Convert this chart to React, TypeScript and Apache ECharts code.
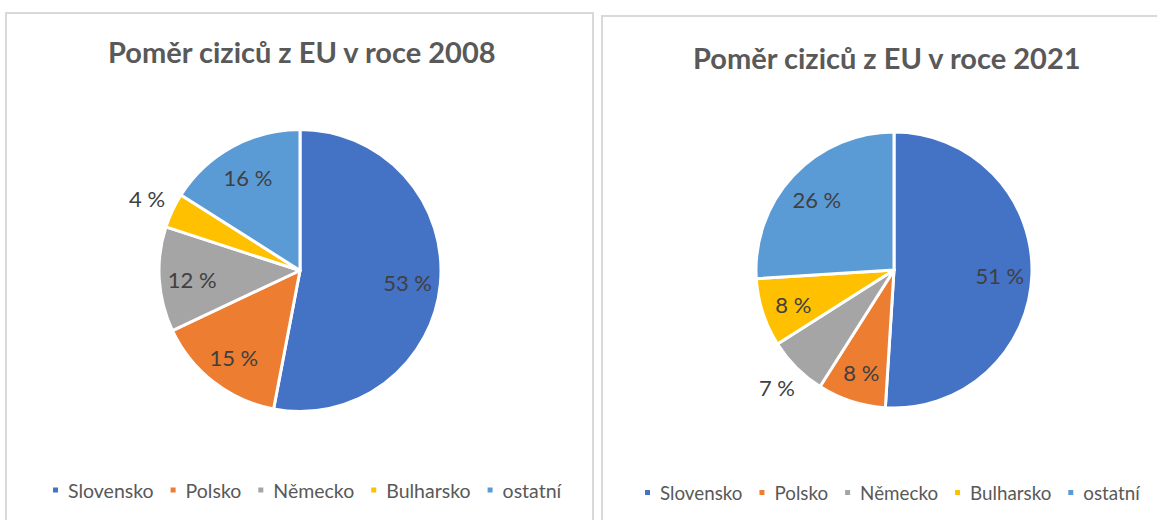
import React, { useEffect, useRef } from 'react';
import * as echarts from 'echarts';

const categories = ['Slovensko', 'Polsko', 'Německo', 'Bulharsko', 'ostatní'];
const values2008 = [53, 15, 12, 4, 16];
const values2021 = [51, 8, 7, 8, 26];
const titles = ['Poměr ciziců z EU v roce 2008', 'Poměr ciziců z EU v roce 2021'];
const outside2008 = ['Bulharsko'];
const outside2021 = ['Německo'];

const colors = ['#4472C4', '#ED7D31', '#A5A5A5', '#FFC000', '#5B9BD5'];
const FONT = 'Lato, "Open Sans", sans-serif';

export default function App() {
  const ref = useRef<HTMLDivElement>(null);
  useEffect(() => {
    if (!ref.current) return;
    const chart = echarts.init(ref.current, undefined, { renderer: 'svg' });

    const centers: [number, number][] = [[300, 270.5], [894, 270]];
    const radii = [141, 138];
    const outsides = [outside2008, outside2021];
    const valueSets = [values2008, values2021];

    const makeSeries = (i: number) => ({
      type: 'pie',
      name: titles[i],
      center: centers[i],
      radius: radii[i],
      startAngle: 90,
      clockwise: true,
      avoidLabelOverlap: false,
      itemStyle: { borderColor: '#ffffff', borderWidth: 3 },
      label: {
        show: true,
        position: 'inside',
        formatter: '{c} %',
        fontFamily: FONT,
        fontSize: 22,
        color: '#404040',
      },
      labelLine: { show: false },
      emphasis: { disabled: true },
      labelLayout: (params: any) => {
        const [cx, cy] = centers[i];
        const lr = params.labelRect;
        const lx = lr.x + lr.width / 2;
        const ly = lr.y + lr.height / 2;
        const isOut = outsides[i].includes(categories[params.dataIndex]);
        const k = isOut ? 2.3 : 1.47;
        return {
          x: cx + (lx - cx) * k,
          y: cy + (ly - cy) * k + (isOut ? 0 : 2),
          align: 'center',
          verticalAlign: 'middle',
        };
      },
      data: categories.map((name, j) => ({ name, value: valueSets[i][j] })),
    });

    const legendBase = {
      data: categories,
      orient: 'horizontal',
      icon: 'rect',
      itemWidth: 7,
      itemHeight: 7,
      width: 540,
      selectedMode: false,
    };
    const legendText = (size: number) => ({
      fontFamily: FONT,
      fontSize: size,
      color: '#595959',
      padding: [0, 0, 0, 4],
    });

    chart.setOption({
      animation: false,
      backgroundColor: '#ffffff',
      color: colors,
      title: [
        {
          text: titles[0],
          left: 103,
          top: 32,
          textStyle: { fontFamily: FONT, fontWeight: 'bold', fontSize: 29, color: '#595959' },
        },
        {
          text: titles[1],
          left: 688,
          top: 38,
          textStyle: { fontFamily: FONT, fontWeight: 'bold', fontSize: 29, color: '#595959' },
        },
      ],
      legend: [
        { ...legendBase, left: 46, top: 475, itemGap: 15, textStyle: legendText(19.5) },
        { ...legendBase, left: 638, top: 478, itemGap: 15, textStyle: legendText(18.8) },
      ],
      graphic: [
        {
          type: 'rect',
          shape: { x: 6, y: 13, width: 587, height: 520 },
          style: { fill: 'none', stroke: '#d9d9d9', lineWidth: 2 },
          silent: true,
        },
        {
          type: 'rect',
          shape: { x: 602, y: 16, width: 600, height: 520 },
          style: { fill: 'none', stroke: '#d9d9d9', lineWidth: 2 },
          silent: true,
        },
      ],
      series: [makeSeries(0), makeSeries(1)],
    });

    return () => chart.dispose();
  }, []);

  return (
    <div
      ref={ref}
      style={{ position: 'fixed', left: 0, top: 0, width: 1157, height: 520, background: '#fff' }}
    />
  );
}
